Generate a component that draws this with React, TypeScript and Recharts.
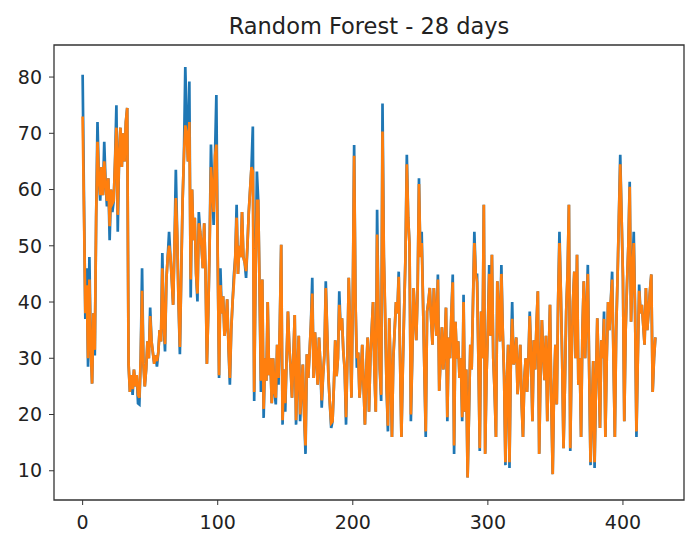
import { Line, LineChart, ReferenceArea, XAxis, YAxis } from 'recharts';

// actual values (blue) for each day index
const actual = [
  80.4, 58, 37, 46, 28.5, 48, 32, 25.5, 38, 30.5,
  55, 72, 62, 58, 64, 59, 68.5, 61, 57, 62,
  51, 60, 56, 58, 65, 75, 52.5, 66, 71, 64,
  70, 65, 72, 74.5, 29, 24, 27, 23.5, 28, 25,
  27, 22, 21.8, 30, 46, 29, 25, 28, 33, 30,
  39, 33, 31, 29, 30.5, 28.5, 31, 35, 33, 48.7,
  36, 31.2, 44, 48, 52.5, 48, 44, 39.5, 50, 63.5,
  52, 40, 30.7, 45, 58, 66, 81.8, 72, 65, 79.2,
  40.8, 60, 51, 55, 45, 40.1, 56, 52.5, 50, 46,
  54, 45, 29, 38, 50, 68, 60, 53.7, 66, 76.8,
  48, 26.5, 46, 38, 41, 34, 36, 40.5, 32, 25.3,
  35, 40, 44.9, 48, 57.3, 45, 50, 48, 56, 48,
  47, 44.3, 50, 56, 60, 64, 71.2, 22.4, 45, 63.2,
  58, 42, 24, 44, 19.4, 30, 26, 40, 27, 30,
  22, 30, 24, 21.8, 32.4, 25.3, 36, 50.2, 18.2, 28,
  20.5, 30, 38.3, 32, 28.3, 23, 30, 37.7, 18.2, 27,
  34, 18.8, 24, 28.9, 20, 13, 30.7, 26.5, 31, 36,
  44.3, 26.5, 34.6, 30, 25.3, 33.7, 29, 21.2, 27, 30.7,
  43.7, 35, 26.5, 22, 17.6, 18.8, 25, 33.2, 26.8, 30,
  41.9, 35, 37.1, 31.2, 28, 18.2, 30, 44.3, 35, 23,
  40, 67.9, 40, 28.3, 31, 23, 27, 32.4, 25, 18.2,
  28, 33.7, 20.5, 30, 35, 40, 28, 20.5, 56.4, 38,
  28, 22.4, 75.3, 48, 36.5, 25, 17, 37.1, 28, 16,
  30, 35, 40, 38, 45.4, 30, 16, 28, 38.3, 48,
  66.2, 55, 50.2, 18.8, 30, 42.5, 38, 33.2, 42, 62,
  48, 52.5, 40, 28, 16, 38.3, 40, 42.5, 37, 32.4,
  42.5, 38, 34, 44.9, 24.2, 30, 35.5, 28, 32, 39,
  18.8, 33.7, 30, 38, 44.9, 13, 36.5, 30, 33, 26.5,
  30, 18.8, 41.3, 20.5, 28, 8.8, 20, 32.4, 28, 40,
  52.5, 45, 44.9, 30, 13.5, 38.3, 30, 57.3, 13, 27,
  35, 46.6, 34, 48.4, 30, 24, 16, 43.7, 38, 33,
  46.6, 35, 27, 11, 25, 32.4, 10.5, 30, 40, 28.9,
  30, 33.7, 23.6, 28, 32.4, 22, 16, 26.5, 30, 24,
  29.5, 38.3, 30, 18.8, 33.2, 28, 36, 41.9, 13, 28,
  36.8, 30, 26.1, 34, 18.8, 30, 39.5, 21.8, 9.4, 25,
  32.4, 21.8, 40, 52.5, 41.9, 30, 14, 25, 38.3, 45,
  57.3, 13.5, 30, 40, 45.4, 30, 48.4, 25.3, 30, 16,
  35, 43.7, 30, 38, 46.6, 28, 11, 20, 29.5, 10.5,
  25, 37.1, 28, 17.6, 33.2, 30, 38.3, 16, 30, 40,
  35, 40, 45.4, 30, 16, 35, 44.3, 55, 66.2, 55,
  44.3, 18.8, 35, 43.1, 50, 61.4, 36.5, 45, 52.5, 38,
  16, 30, 43.1, 38, 39.5, 36, 32.4, 42.5, 35, 38.3,
  42, 44.9, 24, 30, 33.7,
];

// random forest predictions (orange)
const predicted = [
  73, 56, 38, 43, 30, 44, 32, 25.5, 38, 31.5,
  55, 68.5, 62, 59, 64, 59, 65, 61, 58, 62,
  53.5, 60, 57.5, 58, 65, 71, 55.5, 66, 71, 64,
  70, 65, 72, 74.5, 29, 24, 27, 24.5, 28, 25,
  27, 23.5, 23, 30, 42, 29, 25, 28, 33, 30,
  37.5, 33, 31, 29, 30.5, 29.5, 31, 35, 33, 46,
  36, 32.5, 44, 48, 50, 48, 44, 39.5, 50, 58.5,
  52, 40, 32, 45, 58, 66, 71.4, 70, 65, 72,
  44, 60, 51, 55, 45, 41.5, 54, 52.5, 50, 46,
  54, 45, 29, 38, 50, 64, 60, 56, 66, 68,
  48, 27, 43, 38, 41, 34, 36, 40.5, 32, 26.5,
  35, 40, 43.5, 48, 55, 45, 50, 48, 56, 48,
  47, 45.5, 50, 56, 60, 64, 63.2, 24, 45, 58,
  58, 42, 26, 44, 21, 30, 26, 40, 27, 30,
  22, 30, 24, 23, 32.4, 26.5, 36, 50.2, 19, 28,
  22, 30, 38.3, 32, 28.3, 23, 30, 37.7, 19, 27,
  34, 20, 24, 28.9, 20, 14.5, 30.7, 26.5, 31, 36,
  41.5, 26.5, 34.6, 30, 25.3, 33.7, 29, 22.5, 27, 30.7,
  42.5, 35, 26.5, 22, 18.5, 18.8, 25, 33.2, 26.8, 30,
  39.5, 35, 37.1, 31.2, 28, 19.5, 30, 44.3, 35, 23,
  40, 66, 40, 30, 31, 23, 27, 32.4, 25, 18.2,
  28, 33.7, 20.5, 30, 35, 40, 28, 20.5, 52, 38,
  28, 23.5, 70.3, 48, 38, 25, 18, 37.1, 28, 16,
  30, 35, 40, 38, 44.5, 30, 16, 28, 38.3, 48,
  64.5, 55, 50.2, 20, 30, 42.5, 38, 33.2, 42, 61,
  48, 50.5, 40, 28, 17, 38.3, 40, 42.5, 37, 32.4,
  42.5, 38, 34, 44, 24.2, 30, 35.5, 28, 32, 39,
  19.5, 33.7, 30, 38, 43.5, 14.5, 36.5, 30, 33, 26.5,
  30, 19.5, 40, 20.5, 28, 8.8, 20, 32.4, 28, 40,
  50.5, 45, 43.5, 30, 14, 38.3, 30, 57.3, 13, 27,
  35, 45, 34, 48.4, 30, 24, 16, 43.7, 38, 33,
  45, 35, 27, 11.5, 25, 32.4, 11.5, 30, 37, 28.9,
  30, 33.7, 23.6, 28, 32.4, 22, 16, 26.5, 30, 24,
  29.5, 37.5, 30, 18.8, 33.2, 28, 36, 41.9, 13, 28,
  36.8, 30, 26.1, 34, 18.8, 30, 39.5, 21.8, 9.4, 25,
  32.4, 21.8, 40, 50.5, 41.9, 30, 14, 25, 38.3, 45,
  57.3, 14, 30, 40, 45.4, 30, 48.4, 25.3, 30, 16,
  35, 43.7, 30, 38, 45, 28, 11.5, 20, 29.5, 11.5,
  25, 37.1, 28, 17.6, 33.2, 30, 37, 16, 30, 40,
  35, 40, 44, 30, 16, 35, 44.3, 55, 64.5, 55,
  44.3, 18.8, 35, 43.1, 50, 60.5, 36.5, 45, 50.5, 38,
  17, 30, 42, 38, 39.5, 36, 32.4, 42.5, 35, 38.3,
  42, 44.9, 24, 30, 33.7,
];

const xTicks = [0, 100, 200, 300, 400];
const yTicks = [10, 20, 30, 40, 50, 60, 70, 80];

const xDomain: [number, number] = [-21.2, 445.2];
const yDomain: [number, number] = [4.8, 85.7];

const data = actual.map((v, i) => ({ idx: i, actual: v, predicted: predicted[i] }));

const tickStyle = { fontFamily: 'DejaVu Sans', fontSize: 19, fill: '#222' };

export default function App() {
  return (
    <div style={{ position: 'absolute', left: 0, top: 0, width: 690, height: 533, background: '#fff' }}>
      <div
        style={{
          position: 'absolute',
          left: 54,
          width: 630,
          top: 15,
          textAlign: 'center',
          fontFamily: 'DejaVu Sans',
          fontSize: 22.5,
          lineHeight: 1,
          color: '#222',
        }}
      >
        Random Forest - 28 days
      </div>
      <LineChart width={690} height={533} data={data} margin={{ top: 45, right: 6, left: 0, bottom: 0 }}>
        <XAxis
          dataKey='idx'
          type='number'
          domain={xDomain}
          ticks={xTicks}
          allowDataOverflow
          height={33}
          tickSize={5}
          tickMargin={11}
          axisLine={false}
          tickLine={{ stroke: '#333' }}
          tick={tickStyle}
        />
        <YAxis
          type='number'
          domain={yDomain}
          ticks={yTicks}
          allowDataOverflow
          width={54}
          tickSize={5}
          tickMargin={7}
          axisLine={false}
          tickLine={{ stroke: '#333' }}
          tick={tickStyle}
        />
        <ReferenceArea
          x1={xDomain[0]}
          x2={xDomain[1]}
          y1={yDomain[0]}
          y2={yDomain[1]}
          fill='none'
          stroke='#333'
          strokeWidth={1.3}
          ifOverflow='visible'
        />
        <Line
          type='linear'
          dataKey='actual'
          stroke='#1f77b4'
          strokeWidth={2.7}
          dot={false}
          isAnimationActive={false}
        />
        <Line
          type='linear'
          dataKey='predicted'
          stroke='#ff7f0e'
          strokeWidth={2.7}
          dot={false}
          isAnimationActive={false}
        />
      </LineChart>
    </div>
  );
}
